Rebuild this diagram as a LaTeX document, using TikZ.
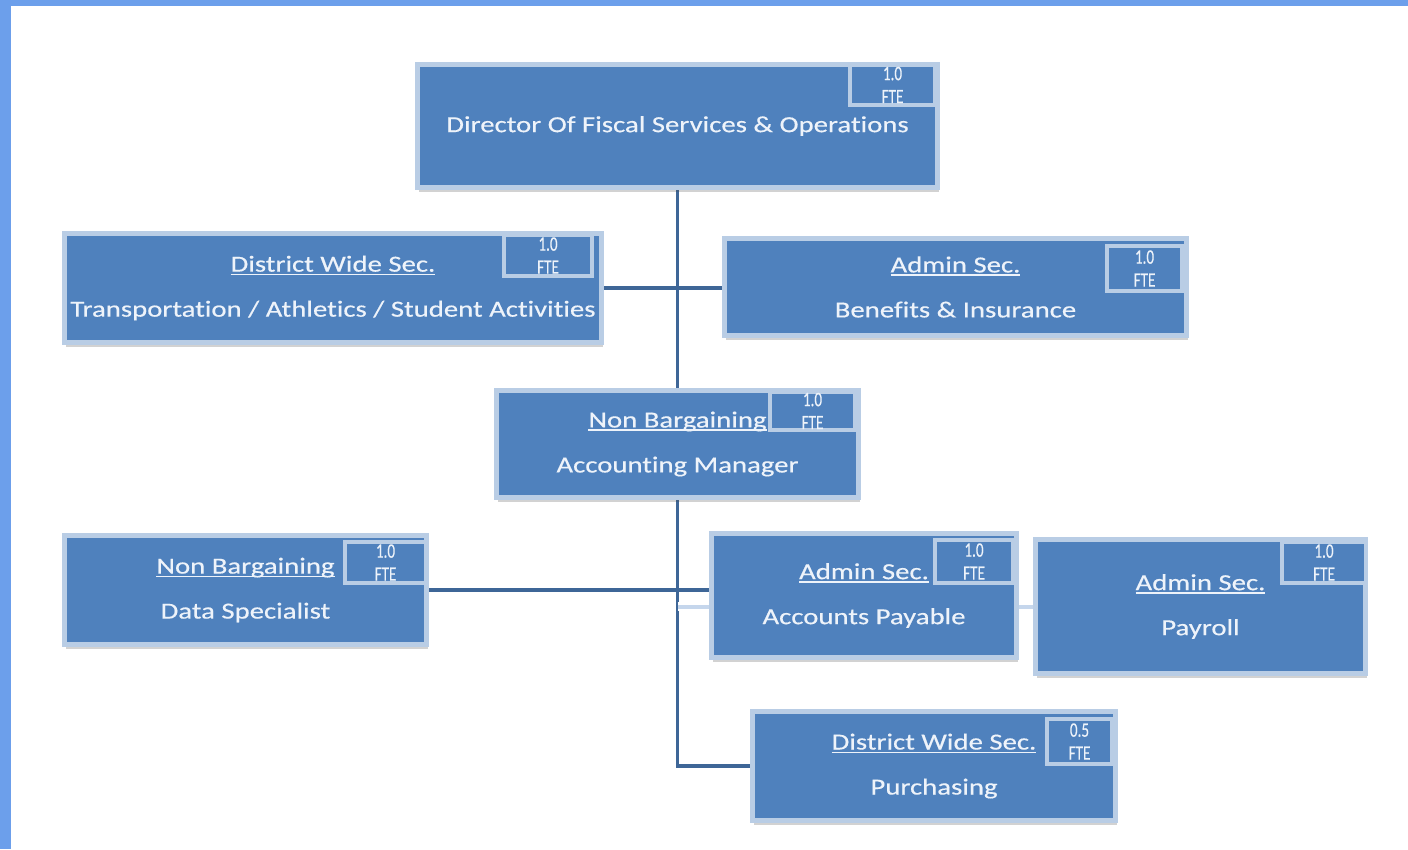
\documentclass[tikz,border=0pt]{standalone}
\usepackage{fontspec}
\setmainfont{Carlito}[FakeStretch=1.25, FakeBold=0.4, Ligatures=NoCommon]
\newfontfamily\ftefont{Carlito}[FakeStretch=0.74, FakeBold=0.3]
\usetikzlibrary{shadows,backgrounds}
\definecolor{frameblue}{HTML}{6C9FEB}
\definecolor{boxblue}{HTML}{4F81BD}
\definecolor{rimblue}{HTML}{B9CDE5}
\definecolor{linkblue}{HTML}{3E6697}
\definecolor{faintlink}{HTML}{C5D6EC}
\definecolor{labelwhite}{HTML}{EEF3FA}
% underline sitting just below the baseline, independent of descenders
\newsavebox\titlebox
\newcommand\titleline[1]{\sbox\titlebox{#1}\rlap{\rule[-3.5pt]{\wd\titlebox}{1.5pt}}\usebox\titlebox}
\tikzset{
  post/.style={draw=rimblue, fill=boxblue, line width=5pt, inner sep=0pt,
    text=labelwhite, align=center, font=\fontsize{23}{45}\selectfont,
    drop shadow={shadow xshift=1pt, shadow yshift=-4pt, opacity=0.25, fill=black!70}},
  fte/.style={draw=rimblue, fill=boxblue, line width=4pt, inner sep=0pt,
    text=labelwhite, align=center, font=\ftefont\fontsize{20.5}{23}\selectfont},
  link/.style={draw=linkblue, line width=3.5pt},
  faint/.style={draw=faintlink, line width=4pt}
}
\begin{document}
\begin{tikzpicture}[x=1pt, y=-1pt]
\useasboundingbox (0,0) rectangle (1408,849);
% page ground and frame strips
\begin{scope}[on background layer]
  \fill[white] (0,0) rectangle (1408,849);
  \fill[frameblue] (0,0) rectangle (11,849);
  \fill[frameblue] (0,0) rectangle (1408,6);
\end{scope}

% positions
\node[post, minimum width=520, minimum height=123] (dir) at (677.5,126)
  {Director Of Fiscal Services \& Operations};
\node[post, minimum width=537, minimum height=109] (trans) at (333,288)
  {\titleline{District Wide Sec.}\\Transportation / Athletics / Student Activities};
\node[post, minimum width=462, minimum height=97] (bene) at (955.5,287)
  {\titleline{Admin Sec.}\\Benefits \& Insurance};
\node[post, minimum width=362, minimum height=107] (acct) at (677.5,444)
  {\titleline{Non Bargaining}\\Accounting Manager};
\node[post, minimum width=362, minimum height=109] (data) at (245.5,590)
  {\titleline{Non Bargaining}\\Data Specialist};
\node[post, minimum width=305, minimum height=124] (ap) at (864,595.5)
  {\titleline{Admin Sec.}\\Accounts Payable};
\node[post, minimum width=330, minimum height=134] (pay) at (1200.5,606.5)
  {\titleline{Admin Sec.}\\Payroll};
\node[post, minimum width=363, minimum height=109] (purch) at (934,766)
  {\titleline{District Wide Sec.}\\Purchasing};

% FTE tags
\node[fte, minimum width=85, minimum height=40] (dirfte) at (892.5,85) {1.0\\FTE};
\node[fte, minimum width=88, minimum height=41] (transfte) at (548,255.5) {1.0\\FTE};
\node[fte, minimum width=75, minimum height=45] (benefte) at (1144.5,268.5) {1.0\\FTE};
\node[fte, minimum width=85, minimum height=38] (acctfte) at (812.5,411) {1.0\\FTE};
\node[fte, minimum width=81, minimum height=41] (datafte) at (385.5,562.5) {1.0\\FTE};
\node[fte, minimum width=78, minimum height=43] (apfte) at (974,561.5) {1.0\\FTE};
\node[fte, minimum width=84, minimum height=41] (payfte) at (1324,562.5) {1.0\\FTE};
\node[fte, minimum width=65, minimum height=45] (purchfte) at (1079.5,741.5) {0.5\\FTE};

% reporting lines
\begin{scope}[on background layer]
  \draw[link] (dir.south) -- (acct.north);
  \draw[link] (trans.east) -- (trans.east -| bene.west);
  \draw[link] (acct.south) |- (purch.west);
  \draw[link] (data.east) -- (data.east -| ap.west);
  \coordinate (apjoin) at (acct.south |- pay.west);
  \draw[white, line width=9pt] (apjoin) -- (apjoin -| ap.west);
  \draw[faint] (apjoin) -- (apjoin -| ap.west);
  \draw[faint] (ap.east |- pay.west) -- (pay.west);
\end{scope}
\end{tikzpicture}
\end{document}
